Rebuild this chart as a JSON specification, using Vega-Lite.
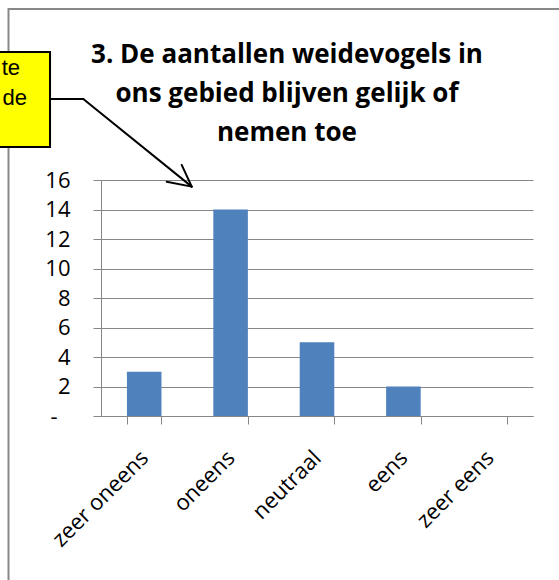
{
  "$schema": "https://vega.github.io/schema/vega-lite/v6.json",
  "width": 432,
  "height": 236,
  "autosize": {"type": "none"},
  "padding": {"left": 101, "top": 180, "right": 26, "bottom": 164},
  "background": "white",
  "config": {"view": {"stroke": null}},
  "title": {
    "text": ["3. De aantallen weidevogels in", "ons gebied blijven gelijk of", "nemen toe"],
    "font": "Open Sans",
    "fontSize": 26,
    "fontWeight": "bold",
    "color": "#000000",
    "lineHeight": 39,
    "frame": "group",
    "anchor": "middle",
    "dx": -30,
    "offset": -138
  },
  "datasets": {
    "bars": [
      {"cat": "zeer oneens", "count": 3},
      {"cat": "oneens", "count": 14},
      {"cat": "neutraal", "count": 5},
      {"cat": "eens", "count": 2},
      {"cat": "zeer eens", "count": 0}
    ],
    "frame": [{"x1": -1.0706, "x2": 5.8, "y1": 27.59, "y2": -12.5}],
    "box": [{"x1": -1.5, "x2": -0.590, "y1": 24.68, "y2": 18.24}],
    "texts": [
      {"ax": -0.9375, "ay": 23.12, "t": "te"},
      {"ax": -0.856, "ay": 21.08, "t": "de"}
    ],
    "segs": [
      {"x1": -0.590, "y1": 21.49, "x2": -0.205, "y2": 21.49},
      {"x1": -0.205, "y1": 21.49, "x2": 1.050, "y2": 15.55},
      {"x1": 0.760, "y1": 15.88, "x2": 1.050, "y2": 15.55},
      {"x1": 0.934, "y1": 17.02, "x2": 1.050, "y2": 15.55}
    ]
  },
  "layer": [
    {
      "data": {"name": "frame"},
      "mark": {"type": "rect", "filled": false, "stroke": "#888888", "strokeWidth": 2},
      "encoding": {
        "x": {"field": "x1", "type": "quantitative", "scale": {"domain": [0, 5], "nice": false, "zero": false}, "axis": null},
        "x2": {"field": "x2"},
        "y": {"field": "y1", "type": "quantitative", "scale": {"domain": [0, 16], "nice": false}, "axis": null},
        "y2": {"field": "y2"}
      }
    },
    {
      "data": {"name": "bars"},
      "mark": {"type": "bar", "color": "#4F81BD"},
      "encoding": {
        "x": {
          "field": "cat", "type": "nominal",
          "sort": ["zeer oneens", "oneens", "neutraal", "eens", "zeer eens"],
          "scale": {"paddingInner": 0.6, "paddingOuter": 0.3},
          "axis": {
            "title": null,
            "labelAngle": -45,
            "labelAlign": "right",
            "labelBaseline": "middle",
            "labelFont": "Open Sans",
            "labelFontSize": 22,
            "labelColor": "#000000",
            "labelPadding": 30,
            "tickBand": "extent",
            "tickSize": 8,
            "tickColor": "#868686",
            "domainColor": "#868686",
            "grid": false
          }
        },
        "y": {
          "field": "count", "type": "quantitative",
          "scale": {"domain": [0, 16], "nice": false},
          "axis": {
            "title": null,
            "values": [0, 2, 4, 6, 8, 10, 12, 14, 16],
            "labelExpr": "datum.value == 0 ? '-' : datum.label",
            "labelFont": "Open Sans",
            "labelFontSize": 22,
            "labelColor": "#000000",
            "labelPadding": {"condition": {"test": "datum.value == 0", "value": 36}, "value": 23},
            "tickSize": 8,
            "tickColor": "#868686",
            "domainColor": "#868686",
            "grid": true,
            "gridColor": "#868686",
            "gridOpacity": 1
          }
        }
      }
    },
    {
      "data": {"name": "box"},
      "mark": {"type": "rect", "fill": "#FFFF00", "stroke": "#000000", "strokeWidth": 2},
      "encoding": {
        "x": {"field": "x1", "type": "quantitative", "scale": {"domain": [0, 5], "nice": false, "zero": false}, "axis": null},
        "x2": {"field": "x2"},
        "y": {"field": "y1", "type": "quantitative", "scale": {"domain": [0, 16], "nice": false}, "axis": null},
        "y2": {"field": "y2"}
      }
    },
    {
      "data": {"name": "texts"},
      "mark": {"type": "text", "align": "right", "baseline": "alphabetic", "font": "Liberation Sans", "fontSize": 22, "color": "#000000"},
      "encoding": {
        "x": {"field": "ax", "type": "quantitative", "scale": {"domain": [0, 5], "nice": false, "zero": false}, "axis": null},
        "y": {"field": "ay", "type": "quantitative", "scale": {"domain": [0, 16], "nice": false}, "axis": null},
        "text": {"field": "t"}
      }
    },
    {
      "data": {"name": "segs"},
      "mark": {"type": "rule", "color": "#000000", "strokeWidth": 2, "strokeCap": "round"},
      "encoding": {
        "x": {"field": "x1", "type": "quantitative", "scale": {"domain": [0, 5], "nice": false, "zero": false}, "axis": null},
        "x2": {"field": "x2"},
        "y": {"field": "y1", "type": "quantitative", "scale": {"domain": [0, 16], "nice": false}, "axis": null},
        "y2": {"field": "y2"}
      }
    }
  ],
  "resolve": {"scale": {"x": "independent", "y": "independent"}, "axis": {"x": "independent", "y": "independent"}}
}
